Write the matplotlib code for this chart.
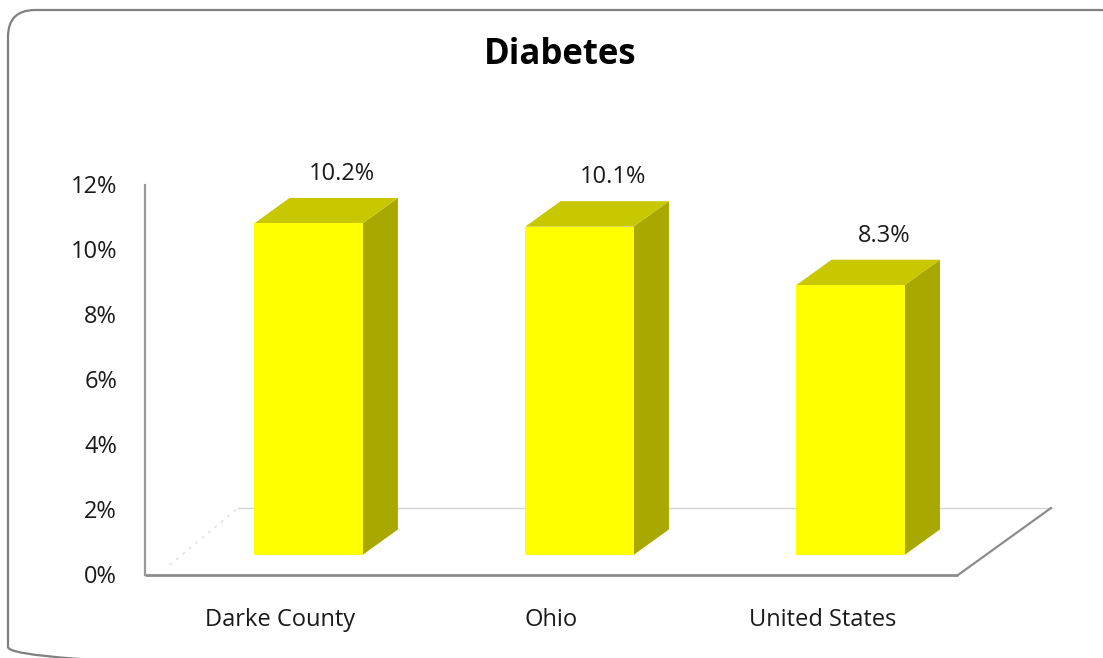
import matplotlib
matplotlib.use("Agg")
import matplotlib.pyplot as plt
from matplotlib.patches import Polygon, FancyBboxPatch

# Data
categories = ["Darke County", "Ohio", "United States"]
values = [10.2, 10.1, 8.3]
value_labels = ["10.2%", "10.1%", "8.3%"]
tick_values = [0, 2, 4, 6, 8, 10, 12]
tick_labels = ["0%", "2%", "4%", "6%", "8%", "10%", "12%"]

FONT = ["Open Sans", "DejaVu Sans"]

W, H = 1103, 658
fig = plt.figure(figsize=(W / 100, H / 100), dpi=100)
ax = fig.add_axes([0, 0, 1, 1])

# Front plane mapping: x in category units, y in percent
x0_px, unit_px = 145.0, 271.0
y0_px, pct_px = 575.0, 32.5
ax.set_xlim(-x0_px / unit_px, (W - x0_px) / unit_px)
ax.set_ylim(-(H - y0_px) / pct_px, y0_px / pct_px)
ax.axis("off")

# Oblique depth vector for the full floor depth (category units, percent)
DX, DY = 93.0 / unit_px, 67.0 / pct_px
n = len(categories)


def proj(x, y, z):
    return (x + z * DX, y + z * DY)


# Floor outline
floor_col = "#8c8c8c"
ax.plot(*zip(proj(0, 0, 0), proj(n, 0, 0)), color=floor_col, lw=2.0,
        solid_capstyle="butt", zorder=2)
ax.plot(*zip(proj(n, 0, 0), proj(n, 0, 1)), color=floor_col, lw=1.6, zorder=2)
ax.plot(*zip(proj(0, 0, 1), proj(n, 0, 1)), color="#d4d4d4", lw=1.0, zorder=1)
ax.plot(*zip(proj(0.04, 0, 0.15), proj(0, 0, 1)), color="#dcdcdc", lw=1.0,
        ls=(0, (2, 4)), zorder=1)

# Value axis
ax.plot([0, 0], [0, max(tick_values)], color="#999999", lw=1.6, zorder=2)
for tv, tl in zip(tick_values, tick_labels):
    ax.text(-28 / unit_px, tv - 2 / pct_px, tl, ha="right", va="center",
            fontsize=17, family=FONT, color="#1a1a1a")

# 3D bars
front_col, top_col, side_col = "#ffff00", "#c8c800", "#a8a800"
z_front, z_back = 0.30, 0.68
bar_w = 0.40
for i, (v, lab) in enumerate(zip(values, value_labels)):
    xl = i + 0.5 - bar_w / 2
    xr = i + 0.5 + bar_w / 2
    front = [proj(xl, 0, z_front), proj(xr, 0, z_front),
             proj(xr, v, z_front), proj(xl, v, z_front)]
    side = [proj(xr, 0, z_front), proj(xr, 0, z_back),
            proj(xr, v, z_back), proj(xr, v, z_front)]
    top = [proj(xl, v, z_front), proj(xr, v, z_front),
           proj(xr, v, z_back), proj(xl, v, z_back)]
    ax.add_patch(Polygon(side, closed=True, fc=side_col, ec="none", zorder=3))
    ax.add_patch(Polygon(top, closed=True, fc=top_col, ec="none", zorder=3))
    ax.add_patch(Polygon(front, closed=True, fc=front_col, ec="none", zorder=4))
    lx, ly = proj(i + 0.5, v, z_back)
    ax.text(lx - 2 / unit_px, ly + 12 / pct_px, lab, ha="center", va="bottom",
            fontsize=17, family=FONT, color="#1a1a1a", zorder=5)

# Category labels
for i, c in enumerate(categories):
    ax.text(i + 0.5, -(620 - y0_px) / pct_px, c, ha="center", va="center",
            fontsize=17, family=FONT, color="#1a1a1a")

# Title
ax.text((560 - x0_px) / unit_px, (y0_px - 55) / pct_px, "Diabetes",
        ha="center", va="center", fontsize=25, fontweight="bold",
        family=FONT, color="#000000")

# Rounded chart border, drawn in pixel units on an overlay
bx = fig.add_axes([0, 0, 1, 1], zorder=10)
bx.set_xlim(0, W)
bx.set_ylim(H, 0)
bx.axis("off")
bx.patch.set_alpha(0)
bx.add_patch(FancyBboxPatch((8, 10), 1128 - 8, 674 - 10,
                            boxstyle="round,pad=0,rounding_size=27",
                            fc="none", ec="#808080", lw=1.6))

fig.savefig("out.png", dpi=100, facecolor="white")
